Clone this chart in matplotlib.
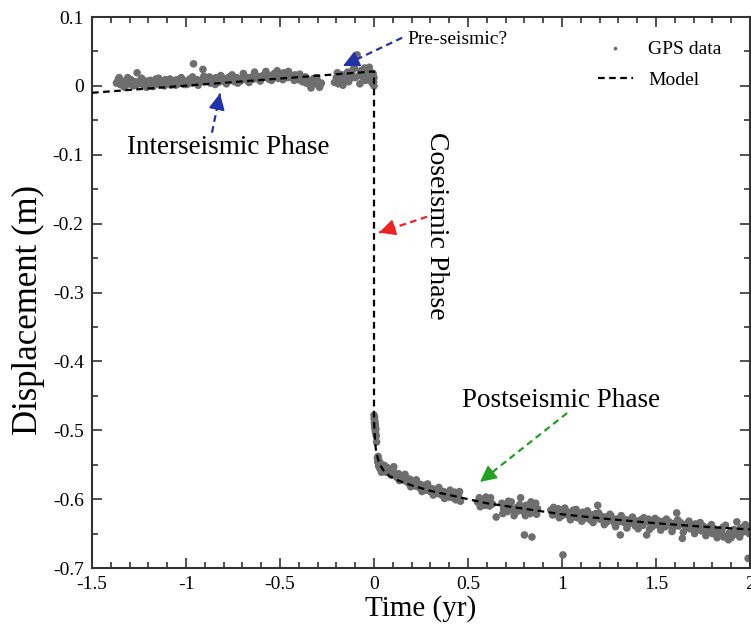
import numpy as np
import matplotlib
matplotlib.use('Agg')
from matplotlib import pyplot as plt
from matplotlib.ticker import MultipleLocator

plt.rcParams['font.family'] = ['Liberation Serif', 'DejaVu Serif']

# %% data

# GPS data, interseismic part (yr, m)
inter_t = [-1.37, -1.36, -1.35, -1.34, -1.33, -1.32, -1.31, -1.30, -1.29, -1.28,
           -1.27, -1.26, -1.25, -1.24, -1.23, -1.22, -1.21, -1.20, -1.19, -1.18,
           -1.17, -1.16, -1.15, -1.14, -1.13, -1.12, -1.11, -1.10, -1.09, -1.08,
           -1.07, -1.06, -1.05, -1.04, -1.03, -1.02, -1.01, -1.00, -0.99, -0.98,
           -0.97, -0.96, -0.95, -0.94, -0.93, -0.92, -0.91, -0.90, -0.89, -0.88,
           -0.87, -0.86, -0.85, -0.84, -0.83, -0.82, -0.81, -0.80, -0.79, -0.78,
           -0.77, -0.76, -0.75, -0.74, -0.73, -0.72, -0.71, -0.70, -0.69, -0.68,
           -0.67, -0.66, -0.65, -0.64, -0.63, -0.62, -0.61, -0.60, -0.59, -0.58,
           -0.57, -0.56, -0.55, -0.54, -0.53, -0.52, -0.51, -0.50, -0.49, -0.48,
           -0.47, -0.46, -0.45, -0.44, -0.43, -0.42, -0.41, -0.40, -0.39, -0.38,
           -0.37, -0.36, -0.35, -0.34, -0.33, -0.32, -0.31, -0.30, -0.29, -0.28,
           -0.21, -0.20, -0.19, -0.18, -0.17, -0.16, -0.15, -0.14, -0.13, -0.12,
           -0.11, -0.10, -0.09, -0.08, -0.07, -0.06, -0.05, -0.04, -0.03, -0.02,
           -0.01, -0.005, 0.0, 0.0,
           -1.355, -1.325, -1.295, -1.265, -1.235, -1.205, -1.175, -1.145, -1.115, -1.085,
           -1.055, -1.025, -0.995, -0.965, -0.935, -0.905, -0.875, -0.845, -0.815, -0.785,
           -0.755, -0.725, -0.695, -0.665, -0.635, -0.605, -0.575, -0.545, -0.515, -0.485,
           -0.455, -0.425, -0.395, -0.365, -0.335, -0.305, -0.285, -0.195, -0.165, -0.135,
           -0.105, -0.075, -0.045, -0.025, -0.015, -0.002]
inter_y = [0.004, 0.010, 0.002, 0.007, -0.001, 0.005, 0.012, 0.003, 0.008, 0.000,
           0.006, 0.019, 0.004, 0.009, 0.002, 0.006, -0.002, 0.004, 0.008, 0.001,
           0.005, 0.010, 0.003, 0.007, 0.002, 0.005, 0.009, 0.004, 0.006, 0.001,
           0.007, 0.004, 0.009, 0.003, 0.006, 0.008, 0.002, 0.007, 0.005, 0.010,
           0.004, 0.032, 0.006, 0.009, 0.004, 0.008, 0.024, 0.006, 0.011, 0.007,
           0.004, 0.010, 0.006, 0.012, 0.005, 0.009, 0.007, 0.011, 0.006, 0.009,
           0.013, 0.008, 0.010, 0.006, 0.012, 0.009, 0.007, 0.011, 0.014, 0.009,
           0.012, 0.008, 0.013, 0.010, 0.015, 0.011, 0.009, 0.014, 0.012, 0.017,
           0.013, 0.010, 0.015, 0.012, 0.018, 0.014, 0.011, 0.016, 0.013, 0.019,
           0.015, 0.012, 0.017, 0.014, 0.011, 0.016, 0.013, 0.009, 0.012, 0.006,
           0.010, 0.004, 0.008, 0.001, 0.006, 0.011, 0.003, 0.007, -0.002, 0.004,
           0.005, 0.012, 0.003, 0.010, 0.016, 0.007, 0.013, 0.020, 0.010, 0.017,
           0.024, 0.012, 0.045, 0.015, 0.022, 0.013, 0.026, 0.017, 0.009, 0.020,
           0.004, 0.018, 0.012, 0.000,
           0.012, -0.002, 0.009, 0.001, 0.011, 0.007, -0.001, 0.011, 0.000, 0.010,
           0.001, 0.012, 0.002, 0.013, 0.001, 0.014, 0.013, 0.002, 0.015, 0.003,
           0.016, 0.004, 0.018, 0.005, 0.020, 0.007, 0.021, 0.008, 0.022, 0.009,
           0.021, 0.008, 0.017, 0.013, -0.003, 0.012, 0.002, 0.019, 0.001, 0.006,
           0.026, 0.003, 0.008, 0.027, 0.014, 0.006]

# GPS data, postseismic part
post_t = [0.000, 0.001, 0.002, 0.003, 0.004, 0.005, 0.006, 0.007, 0.008, 0.010,
          0.012, 0.014, 0.018, 0.020, 0.022, 0.025, 0.028, 0.032, 0.036, 0.040,
          0.045, 0.050, 0.055, 0.060, 0.065, 0.07, 0.08, 0.09, 0.10, 0.11,
          0.12, 0.13, 0.14, 0.15, 0.16, 0.17, 0.18, 0.19, 0.20, 0.21,
          0.22, 0.23, 0.24, 0.25, 0.26, 0.27, 0.28, 0.29, 0.30, 0.31,
          0.32, 0.33, 0.34, 0.35, 0.36, 0.37, 0.38, 0.39, 0.40, 0.41,
          0.42, 0.43, 0.44, 0.45, 0.46,
          0.55, 0.56, 0.57, 0.58, 0.59, 0.60, 0.61, 0.62, 0.63, 0.65,
          0.68, 0.69, 0.70, 0.71, 0.72, 0.73, 0.74, 0.75, 0.76, 0.77,
          0.78, 0.79, 0.80, 0.81, 0.82, 0.83, 0.84, 0.85, 0.86, 0.87,
          0.80, 0.84,
          0.94, 0.95, 0.96, 0.97, 0.98, 0.99, 1.00, 1.01, 1.02, 1.03,
          1.04, 1.05, 1.06, 1.07, 1.08, 1.09, 1.10, 1.11, 1.12, 1.13,
          1.14, 1.15, 1.16, 1.17, 1.18, 1.19, 1.20, 1.21, 1.22, 1.23,
          1.24, 1.25, 1.26, 1.27, 1.28, 1.29, 1.30, 1.31, 1.32, 1.33,
          1.34, 1.35, 1.36, 1.37, 1.38, 1.39, 1.40, 1.41, 1.42, 1.43,
          1.44, 1.45, 1.46, 1.47, 1.48, 1.49, 1.50, 1.51, 1.52, 1.53,
          1.54, 1.55, 1.56, 1.57, 1.58, 1.59, 1.60, 1.61, 1.62, 1.63,
          1.64, 1.65, 1.66, 1.67, 1.68, 1.69, 1.70, 1.71, 1.72, 1.73,
          1.74, 1.75, 1.76, 1.77, 1.78, 1.79, 1.80, 1.81, 1.82, 1.83,
          1.84, 1.85, 1.86, 1.87, 1.88, 1.89, 1.90, 1.91, 1.92, 1.93,
          1.94, 1.95, 1.96, 1.97, 1.98, 1.99, 2.00, 1.005,
          0.105, 0.135, 0.165, 0.195, 0.225, 0.255, 0.285, 0.315, 0.345, 0.375,
          0.405, 0.435, 0.455, 0.565, 0.595, 0.615, 0.685, 0.715, 0.745, 0.775,
          0.805, 0.835, 0.865, 0.955, 0.985, 1.015, 1.045, 1.075, 1.105, 1.135,
          1.165, 1.195, 1.225, 1.255, 1.285, 1.315, 1.345, 1.375, 1.405, 1.435,
          1.465, 1.495, 1.525, 1.555, 1.585, 1.615, 1.645, 1.675, 1.705, 1.735,
          1.765, 1.795, 1.825, 1.855, 1.885, 1.915, 1.945, 1.975, 1.995]
post_y = [-0.478, -0.484, -0.490, -0.481, -0.495, -0.487, -0.499, -0.492, -0.503, -0.498,
          -0.508, -0.517, -0.540, -0.546, -0.538, -0.552, -0.545, -0.556, -0.549, -0.561,
          -0.553, -0.558, -0.551, -0.556, -0.561, -0.554, -0.560, -0.565, -0.558, -0.564,
          -0.568, -0.563, -0.570, -0.566, -0.573, -0.569, -0.576, -0.571, -0.578, -0.574,
          -0.581, -0.576, -0.583, -0.579, -0.585, -0.580, -0.587, -0.583, -0.589, -0.585,
          -0.591, -0.586, -0.592, -0.588, -0.594, -0.589, -0.596, -0.591, -0.597, -0.592,
          -0.598, -0.590, -0.600, -0.594, -0.603,
          -0.604, -0.598, -0.606, -0.601, -0.609, -0.600, -0.605, -0.598, -0.607, -0.626,
          -0.606, -0.614, -0.609, -0.618, -0.611, -0.604, -0.615, -0.620, -0.612, -0.617,
          -0.598, -0.613, -0.619, -0.609, -0.616, -0.621, -0.611, -0.617, -0.606, -0.614,
          -0.652, -0.655,
          -0.616, -0.623, -0.618, -0.621, -0.614, -0.620, -0.624, -0.617, -0.622, -0.619,
          -0.625, -0.620, -0.616, -0.623, -0.627, -0.621, -0.625, -0.619, -0.628, -0.622,
          -0.626, -0.630, -0.623, -0.627, -0.621, -0.609, -0.629, -0.625, -0.631, -0.626,
          -0.633, -0.628, -0.624, -0.631, -0.635, -0.629, -0.633, -0.652, -0.627, -0.634,
          -0.630, -0.637, -0.631, -0.628, -0.635, -0.639, -0.632, -0.636, -0.630, -0.638,
          -0.633, -0.652, -0.629, -0.636, -0.640, -0.634, -0.637, -0.631, -0.639, -0.635,
          -0.632, -0.640, -0.636, -0.633, -0.638, -0.642, -0.635, -0.620, -0.639, -0.634,
          -0.657, -0.637, -0.641, -0.635, -0.643, -0.638, -0.641, -0.636, -0.644, -0.640,
          -0.646, -0.639, -0.643, -0.648, -0.641, -0.646, -0.650, -0.643, -0.648, -0.645,
          -0.652, -0.647, -0.655, -0.638, -0.653, -0.649, -0.656, -0.647, -0.651, -0.633,
          -0.646, -0.642, -0.648, -0.640, -0.645, -0.686, -0.643, -0.681,
          -0.553, -0.573, -0.564, -0.582, -0.572, -0.589, -0.578, -0.594, -0.583, -0.599,
          -0.587, -0.601, -0.589, -0.611, -0.597, -0.610, -0.621, -0.603, -0.624, -0.608,
          -0.624, -0.604, -0.622, -0.612, -0.627, -0.613, -0.630, -0.615, -0.632, -0.617,
          -0.634, -0.620, -0.637, -0.622, -0.640, -0.624, -0.642, -0.626, -0.643, -0.627,
          -0.644, -0.628, -0.645, -0.629, -0.647, -0.630, -0.648, -0.632, -0.650, -0.634,
          -0.653, -0.637, -0.656, -0.641, -0.659, -0.644, -0.655, -0.637, -0.650]

# model curve
model_t = [-1.5, 0.0, 0.0, 0.002, 0.005, 0.01, 0.02, 0.03, 0.05, 0.08, 0.12,
           0.2, 0.3, 0.45, 0.6, 0.8, 1.0, 1.25, 1.5, 1.75, 2.0]
model_y = [-0.010, 0.021, -0.480, -0.500, -0.515, -0.528, -0.541, -0.549, -0.558,
           -0.566, -0.572, -0.580, -0.588, -0.597, -0.606, -0.614, -0.622, -0.629,
           -0.635, -0.640, -0.644]

gps_t = np.array(inter_t + post_t)
gps_y = np.array(inter_y + post_y)

# %% figure

fig = plt.figure(figsize=(7.51, 6.3), dpi=100)
ax = fig.add_axes([0.1225, 0.0984, 0.8762, 0.8746])

ax.scatter(gps_t, gps_y, s=30, color='#6e6e6e', edgecolors='none', label='GPS data', zorder=2)
ax.plot(model_t, model_y, color='black', ls=(0, (3, 2)), lw=1.6, label='Model', zorder=3)


def dashed_arrow(x0, y0, x1, y1, color):
    ax.plot([x0, x1], [y0, y1], color=color, ls=(0, (3, 2)), lw=1.6, zorder=4)
    dx, dy = x1 - x0, y1 - y0
    ax.annotate('', xy=(x1, y1), xytext=(x1 - 0.12 * dx, y1 - 0.12 * dy),
                arrowprops=dict(arrowstyle='-|>,head_length=1.0,head_width=0.5',
                                color=color, lw=1.2, shrinkA=0, shrinkB=0), zorder=5)


dashed_arrow(-0.862, -0.068, -0.819, -0.011, '#2233aa')
dashed_arrow(0.15, 0.070, -0.165, 0.029, '#2233aa')
dashed_arrow(0.282, -0.190, 0.027, -0.213, '#ee2222')
dashed_arrow(1.027, -0.475, 0.564, -0.575, '#22a022')

ax.text(-1.314, -0.090, 'Interseismic Phase', fontsize=19.5, va='center', ha='left')
ax.text(0.18, 0.068, 'Pre-seismic?', fontsize=14, va='center', ha='left')
ax.text(0.335, -0.203, 'Coseismic Phase', fontsize=20, va='center', ha='center', rotation=270)
ax.text(0.468, -0.4565, 'Postseismic Phase', fontsize=19.5, va='center', ha='left')

ax.set_xlim(-1.5, 2)
ax.set_ylim(-0.7, 0.1)
ax.xaxis.set_major_locator(MultipleLocator(0.5))
ax.xaxis.set_minor_locator(MultipleLocator(0.1))
ax.yaxis.set_major_locator(MultipleLocator(0.1))
ax.yaxis.set_minor_locator(MultipleLocator(0.05))
ax.xaxis.set_major_formatter(plt.FuncFormatter(lambda v, p: '%g' % v))
ax.yaxis.set_major_formatter(plt.FuncFormatter(lambda v, p: '%g' % round(v, 2)))

ax.tick_params(which='both', direction='in', top=True, right=True, colors='#333333',
               labelcolor='black', labelsize=14, width=1.2)
ax.tick_params(which='major', length=7, pad=6)
ax.tick_params(which='minor', length=4)
for s in ax.spines.values():
    s.set_linewidth(1.5)
    s.set_color('#333333')

ax.set_xlabel('Time (yr)', fontsize=21, labelpad=1)
ax.set_ylabel('Displacement (m)', fontsize=25)
ax.yaxis.set_label_coords(-0.071, 0.468)

ax.legend(loc='upper left', bbox_to_anchor=(0.769, 0.958), frameon=False, fontsize=14,
          markerscale=0.5, handlelength=1.8, handletextpad=0.77, labelspacing=0.7,
          borderpad=0, borderaxespad=0)

plt.savefig('out.png', dpi=100)
